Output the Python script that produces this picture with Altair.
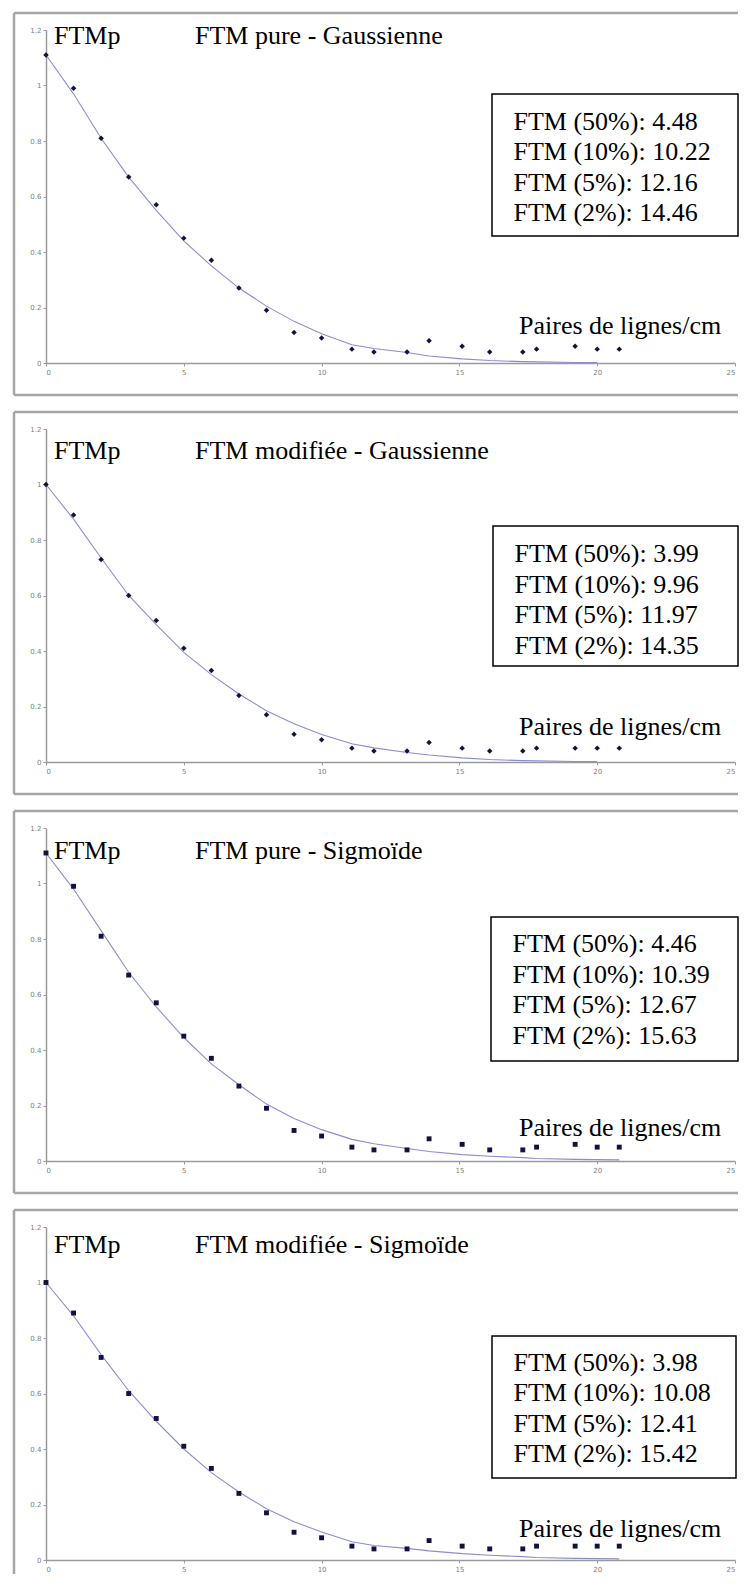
import altair as alt
import pandas as pd

# ---- data ----
freq = [0, 1, 2, 3, 4, 5, 6, 7, 8, 9, 10, 11.1, 11.9, 13.1, 13.9, 15.1, 16.1, 17.3, 17.8, 19.2, 20, 20.8]

ftm_pure = [1.11, 0.99, 0.81, 0.67, 0.57, 0.45, 0.37, 0.27, 0.19, 0.11, 0.09,
            0.05, 0.04, 0.04, 0.08, 0.06, 0.04, 0.04, 0.05, 0.06, 0.05, 0.05]
ftm_mod = [1.0, 0.89, 0.73, 0.60, 0.51, 0.41, 0.33, 0.24, 0.17, 0.10, 0.08,
           0.05, 0.04, 0.04, 0.07, 0.05, 0.04, 0.04, 0.05, 0.05, 0.05, 0.05]

fit_pure_gauss = [1.11, 0.97, 0.81, 0.67, 0.55, 0.44, 0.35, 0.27, 0.205, 0.15, 0.105,
                  0.066, 0.052, 0.038, 0.025, 0.015, 0.009, 0.005, 0.004, 0.002, 0.0015]
fit_mod_gauss = [1.0, 0.875, 0.735, 0.60, 0.495, 0.395, 0.315, 0.245, 0.185, 0.138, 0.099,
                 0.066, 0.051, 0.034, 0.025, 0.015, 0.009, 0.005, 0.004, 0.002, 0.0015]
fit_pure_sig = [1.11, 0.98, 0.83, 0.68, 0.555, 0.445, 0.35, 0.275, 0.205, 0.153, 0.113,
                0.078, 0.062, 0.045, 0.034, 0.023, 0.017, 0.012, 0.009, 0.006, 0.005, 0.004]
fit_mod_sig = [1.0, 0.88, 0.74, 0.61, 0.50, 0.40, 0.315, 0.245, 0.185, 0.138, 0.101,
               0.066, 0.052, 0.042, 0.033, 0.023, 0.017, 0.012, 0.009, 0.006, 0.005, 0.004]

titles = ["FTM pure - Gaussienne", "FTM modifiée - Gaussienne",
          "FTM pure - Sigmoïde", "FTM modifiée - Sigmoïde"]
box_lines = [
    ["FTM (50%): 4.48", "FTM (10%): 10.22", "FTM (5%): 12.16", "FTM (2%): 14.46"],
    ["FTM (50%): 3.99", "FTM (10%): 9.96", "FTM (5%): 11.97", "FTM (2%): 14.35"],
    ["FTM (50%): 4.46", "FTM (10%): 10.39", "FTM (5%): 12.67", "FTM (2%): 15.63"],
    ["FTM (50%): 3.98", "FTM (10%): 10.08", "FTM (5%): 12.41", "FTM (2%): 15.42"],
]
y_label = "FTMp"
x_label = "Paires de lignes/cm"
x_ticks = [0, 5, 10, 15, 20, 25]
y_ticks = [0, 0.2, 0.4, 0.6, 0.8, 1.0, 1.2]

# ---- layout / style ----
W, H = 689, 333
SERIF = "Liberation Serif"
FRAME = "#a6a6a6"
MARK = "#12123e"
CURVE = "#8c8cd2"

# per panel: text baseline, box (x1,y1,x2,y2), first box-line baseline, x-label baseline
layouts = [
    dict(ty=14, box=(446, 64, 692, 206), by=99.5, py=304),
    dict(ty=30, box=(447, 97, 692, 237), by=133, py=306),
    dict(ty=31, box=(445, 89, 692, 233), by=124, py=308),
    dict(ty=26, box=(446, 109, 690, 251), by=143.5, py=310),
]

one = pd.DataFrame({"k": [0]})


def panel(i, yvals, fitvals, shape, size, last=False):
    lay = layouts[i]
    pts = pd.DataFrame({"x": freq, "y": yvals})
    fit = pd.DataFrame({"x": freq[:len(fitvals)], "y": fitvals})
    xs = alt.Scale(domain=[0, 25], nice=False, zero=False)
    ys = alt.Scale(domain=[0, 1.2], nice=False)
    xax = alt.Axis(values=x_ticks, title=None, grid=False)
    yax = alt.Axis(values=y_ticks, title=None, grid=False, format=".1~f")

    curve = alt.Chart(fit).mark_line(color=CURVE, strokeWidth=1.1).encode(
        x=alt.X("x:Q", scale=xs, axis=xax),
        y=alt.Y("y:Q", scale=ys, axis=yax),
    )
    dots = alt.Chart(pts).mark_point(shape=shape, size=size, filled=True,
                                     color=MARK, opacity=1).encode(
        x=alt.X("x:Q", scale=xs), y=alt.Y("y:Q", scale=ys))

    bottom = H + 32
    left_end = H + 14 if last else bottom
    frame_left = alt.Chart(one).mark_rule(color=FRAME, strokeWidth=2.5).encode(
        x=alt.value(-32), y=alt.value(-17), y2=alt.value(left_end))
    frame_top = alt.Chart(one).mark_rule(color=FRAME, strokeWidth=2.5).encode(
        x=alt.value(-32), x2=alt.value(W + 3), y=alt.value(-17))
    layers = [frame_left, frame_top]
    if not last:
        frame_bot = alt.Chart(one).mark_rule(color=FRAME, strokeWidth=2.5).encode(
            x=alt.value(-32), x2=alt.value(W + 3), y=alt.value(bottom))
        layers.append(frame_bot)

    bx1, by1, bx2, by2 = lay["box"]
    box = alt.Chart(one).mark_rect(fill="white", stroke="black", strokeWidth=1.5).encode(
        x=alt.value(bx1), x2=alt.value(bx2), y=alt.value(by1), y2=alt.value(by2))
    box_text = alt.Chart(one).mark_text(
        align="left", baseline="alphabetic", font=SERIF, fontSize=26,
        color="black", lineBreak="\n", lineHeight=30.5).encode(
        x=alt.value(bx1 + 21.5), y=alt.value(lay["by"]),
        text=alt.value("\n".join(box_lines[i])))
    ylab = alt.Chart(one).mark_text(
        align="left", baseline="alphabetic", font=SERIF, fontSize=26, color="black").encode(
        x=alt.value(8), y=alt.value(lay["ty"]), text=alt.value(y_label))
    title = alt.Chart(one).mark_text(
        align="left", baseline="alphabetic", font=SERIF, fontSize=26, color="black").encode(
        x=alt.value(149), y=alt.value(lay["ty"]), text=alt.value(titles[i]))
    xlab = alt.Chart(one).mark_text(
        align="left", baseline="alphabetic", font=SERIF, fontSize=26, color="black").encode(
        x=alt.value(473), y=alt.value(lay["py"]), text=alt.value(x_label))

    layers += [curve, dots, box, box_text, ylab, title, xlab]
    return alt.layer(*layers).properties(width=W, height=H)


chart = alt.vconcat(
    panel(0, ftm_pure, fit_pure_gauss, "diamond", 30),
    panel(1, ftm_mod, fit_mod_gauss, "diamond", 30),
    panel(2, ftm_pure, fit_pure_sig, "square", 24),
    panel(3, ftm_mod, fit_mod_sig, "square", 24, last=True),
    spacing=13,
).properties(
    padding={"left": 4, "top": 3, "right": 0, "bottom": 0},
    background="white",
).configure_view(stroke=None).configure_axis(
    domainColor="#9a9a9a", domainWidth=1.5, tickColor="#9a9a9a", tickSize=3,
    labelColor="#808080", labelFontSize=7, labelPadding=2, labelFont="DejaVu Sans",
)

chart.save("out.html", embed_options={"renderer": "svg", "actions": False})
